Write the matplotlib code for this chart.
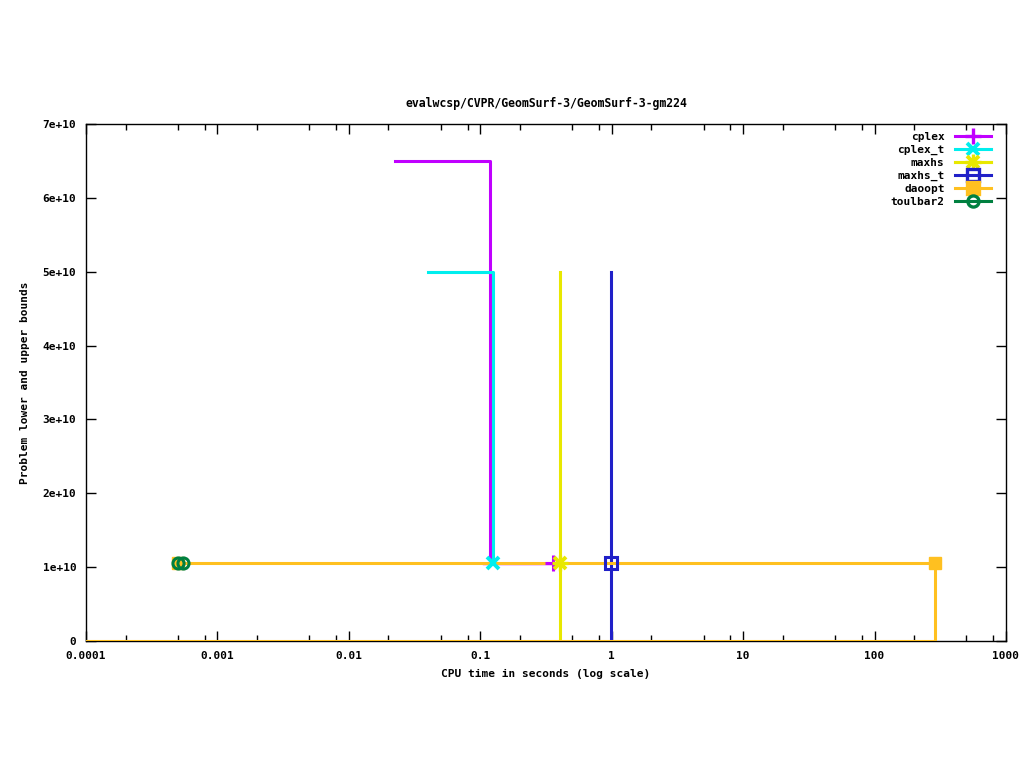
import numpy as np
import matplotlib
matplotlib.use('Agg')
import matplotlib.pyplot as plt
from matplotlib.ticker import LogLocator, FixedLocator, NullFormatter
from matplotlib.legend_handler import HandlerTuple

plt.rcParams['font.family'] = 'DejaVu Sans Mono'
plt.rcParams['font.size'] = 8

title = 'evalwcsp/CVPR/GeomSurf-3/GeomSurf-3-gm224'

# step curves (x = CPU seconds, y = bound)
cplex_x = [0.0224, 0.1186, 0.1186]
cplex_y = [6.5e10, 6.5e10, 1.05e10]
cplex_lb_x = [0.104, 0.357]
cplex_lb_y = [1.04e10, 1.04e10]
cplex_mark = (0.357, 1.05e10)

cplex_t_x = [0.04, 0.125, 0.125]
cplex_t_y = [5.0e10, 5.0e10, 1.05e10]
cplex_t_mark = (0.125, 1.05e10)

maxhs_x = [0.404, 0.404]
maxhs_y = [5.0e10, 0]
maxhs_mark = (0.404, 1.05e10)

maxhs_t_x = [0.987, 0.987]
maxhs_t_y = [5.0e10, 0]
maxhs_t_mark = (0.987, 1.05e10)

daoopt_x = [0.0005, 288, 288, 0.0001]
daoopt_y = [1.05e10, 1.05e10, 0, 0]
daoopt_mark_x = [0.0005, 288]
daoopt_mark_y = [1.05e10, 1.05e10]

toulbar2_x = [0.0005, 0.00055]
toulbar2_y = [1.05e10, 1.05e10]

colors = {'cplex': '#c000ff', 'cplex_t': '#00eeee', 'maxhs': '#e8e800',
          'maxhs_t': '#2020c8', 'daoopt': '#ffc020', 'toulbar2': '#008040'}

fig = plt.figure(figsize=(10.24, 7.68), dpi=100)
ax = fig.add_axes([86/1024, 1 - 641/768, 920/1024, 517/768])

lw = 2.2
ax.plot(cplex_x, cplex_y, color=colors['cplex'], lw=lw, zorder=2)
ax.plot(cplex_lb_x, cplex_lb_y, color=colors['cplex'], lw=1, zorder=2)
ax.plot(cplex_t_x, cplex_t_y, color=colors['cplex_t'], lw=lw, zorder=2)
ax.plot(maxhs_x, maxhs_y, color=colors['maxhs'], lw=lw, zorder=2)
ax.plot(maxhs_t_x, maxhs_t_y, color=colors['maxhs_t'], lw=lw, zorder=2)
ax.plot(daoopt_x, daoopt_y, color=colors['daoopt'], lw=lw, zorder=3)
ax.plot(toulbar2_x, toulbar2_y, color=colors['toulbar2'], lw=lw, zorder=3)

# markers
ax.plot(*cplex_mark, marker='+', ms=11, mew=2.2, color=colors['cplex'], zorder=4)
ax.plot(*cplex_t_mark, marker='x', ms=9, mew=2.8, color=colors['cplex_t'], zorder=4)
ax.plot(*maxhs_mark, marker='x', ms=9, mew=2.8, color=colors['maxhs'], zorder=4)
ax.plot(*maxhs_mark, marker='+', ms=12, mew=2.4, color=colors['maxhs'], zorder=4)
ax.plot(*maxhs_t_mark, marker='s', ms=8, mew=2.2, mfc='none', color=colors['maxhs_t'], zorder=4)
ax.plot(daoopt_mark_x, daoopt_mark_y, 's', ms=9, color=colors['daoopt'], zorder=4)
ax.plot(toulbar2_x, toulbar2_y, 'o', ms=8, mew=2.2, mfc='none', color=colors['toulbar2'], zorder=5)

# legend handles
labels = ['cplex', 'cplex_t', 'maxhs', 'maxhs_t', 'daoopt', 'toulbar2']


def handle(m, s, c, fc='none', mew=2.4):
    h, = ax.plot([], [], color=c, lw=lw, marker=m, ms=s, mew=mew, mfc=fc)
    return h


handles = [handle('+', 11, colors['cplex']),
           handle('x', 9, colors['cplex_t'], mew=2.8),
           (handle('x', 9, colors['maxhs'], mew=2.8), handle('+', 12, colors['maxhs'])),
           handle('s', 8, colors['maxhs_t']),
           handle('s', 9, colors['daoopt'], colors['daoopt']),
           handle('o', 8, colors['toulbar2'])]
leg = ax.legend(handles, labels, loc='upper right', bbox_to_anchor=(0.993, 1.0),
                frameon=False, markerfirst=False,
                handlelength=3.3, labelspacing=0.26, borderaxespad=0.55,
                handletextpad=0.9, fontsize=8, borderpad=0.2,
                handler_map={tuple: HandlerTuple(ndivide=1, pad=0)})
for t in leg.get_texts():
    t.set_ha('right')
    t.set_fontweight('bold')

ax.set_xscale('log')
ax.set_xlim(0.0001, 1000)
ax.set_ylim(0, 7e10)

xt = [0.0001, 0.001, 0.01, 0.1, 1, 10, 100, 1000]
xt_labels = ['0.0001', '0.001', '0.01', '0.1', '1', '10', '100', '1000']
ax.xaxis.set_major_locator(FixedLocator(xt))
ax.set_xticklabels(xt_labels)
ax.xaxis.set_minor_locator(LogLocator(base=10, subs=[2, 5, 8]))
ax.xaxis.set_minor_formatter(NullFormatter())

yt = [0, 1e10, 2e10, 3e10, 4e10, 5e10, 6e10, 7e10]
yt_labels = ['0', '1e+10', '2e+10', '3e+10', '4e+10', '5e+10', '6e+10', '7e+10']
ax.set_yticks(yt)
ax.set_yticklabels(yt_labels)

ax.tick_params(which='both', direction='in', top=True, right=True, width=1)
ax.tick_params(which='major', length=7, labelsize=8)
ax.tick_params(axis='x', which='major', pad=7)
ax.tick_params(axis='y', which='major', pad=7)
ax.tick_params(which='minor', length=4)
for lab in ax.get_xticklabels() + ax.get_yticklabels():
    lab.set_fontweight('bold')
for sp in ax.spines.values():
    sp.set_linewidth(1)

ax.set_title(title, fontsize=8.3, fontweight='bold', pad=12)
ax.set_xlabel('CPU time in seconds (log scale)', fontsize=8, fontweight='bold', labelpad=6)
ax.set_ylabel('Problem lower and upper bounds', fontsize=8, fontweight='bold', labelpad=9)

fig.savefig('out.png', dpi=100)
